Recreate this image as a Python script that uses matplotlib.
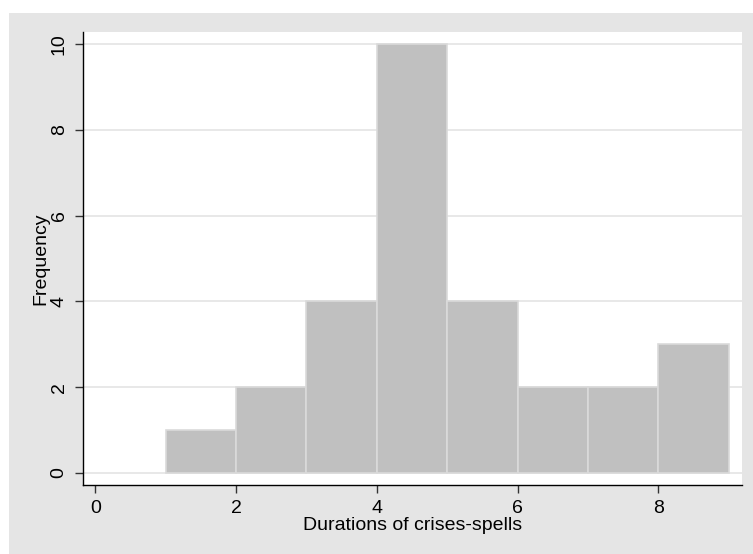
import matplotlib.pyplot as plt
from matplotlib.patches import Rectangle

bin_left = [1, 2, 3, 4, 5, 6, 7, 8]
frequency = [1, 2, 4, 10, 4, 2, 2, 3]
x_ticks = [0, 2, 4, 6, 8]
y_ticks = [0, 2, 4, 6, 8, 10]

plt.rcParams['font.family'] = ['Liberation Sans', 'DejaVu Sans']

W, H = 753, 554
fig = plt.figure(figsize=(W / 100, H / 100), dpi=100, facecolor='white')
# stata-like gray frame around the plot
fig.patches.append(Rectangle((9 / W, 0), 1 - 9 / W, (H - 13) / H, transform=fig.transFigure,
                             facecolor='#e5e5e5', edgecolor='none', zorder=-10))

ax = fig.add_axes([83 / W, 69 / H, (742 - 83) / W, (485 - 32) / H])
ax.set_zorder(1)
ax.set_facecolor('white')

ax.bar(bin_left, frequency, width=1, align='edge', color='#c0c0c0',
       edgecolor='#dadada', linewidth=1.2, zorder=3)

ax.set_xlim(-0.175, 9.19)
ax.set_ylim(-0.28, 10.28)
ax.set_xticks(x_ticks)
ax.set_yticks(y_ticks)
ax.grid(axis='y', color='#e4e4e4', linewidth=1.2, zorder=0)

for s in ['top', 'right']:
    ax.spines[s].set_visible(False)
for s in ['left', 'bottom']:
    ax.spines[s].set_color('black')
    ax.spines[s].set_linewidth(1)

ax.tick_params(axis='both', direction='out', length=6, width=1, color='#333333',
               labelsize=14, pad=5)
for lab in ax.get_yticklabels():
    lab.set_rotation(90)
    lab.set_va('center')

ax.set_xlabel('Durations of crises-spells', fontsize=14, labelpad=0)
ax.set_ylabel('Frequency', fontsize=14, labelpad=1)

fig.savefig('out.png', dpi=100, facecolor='white')
